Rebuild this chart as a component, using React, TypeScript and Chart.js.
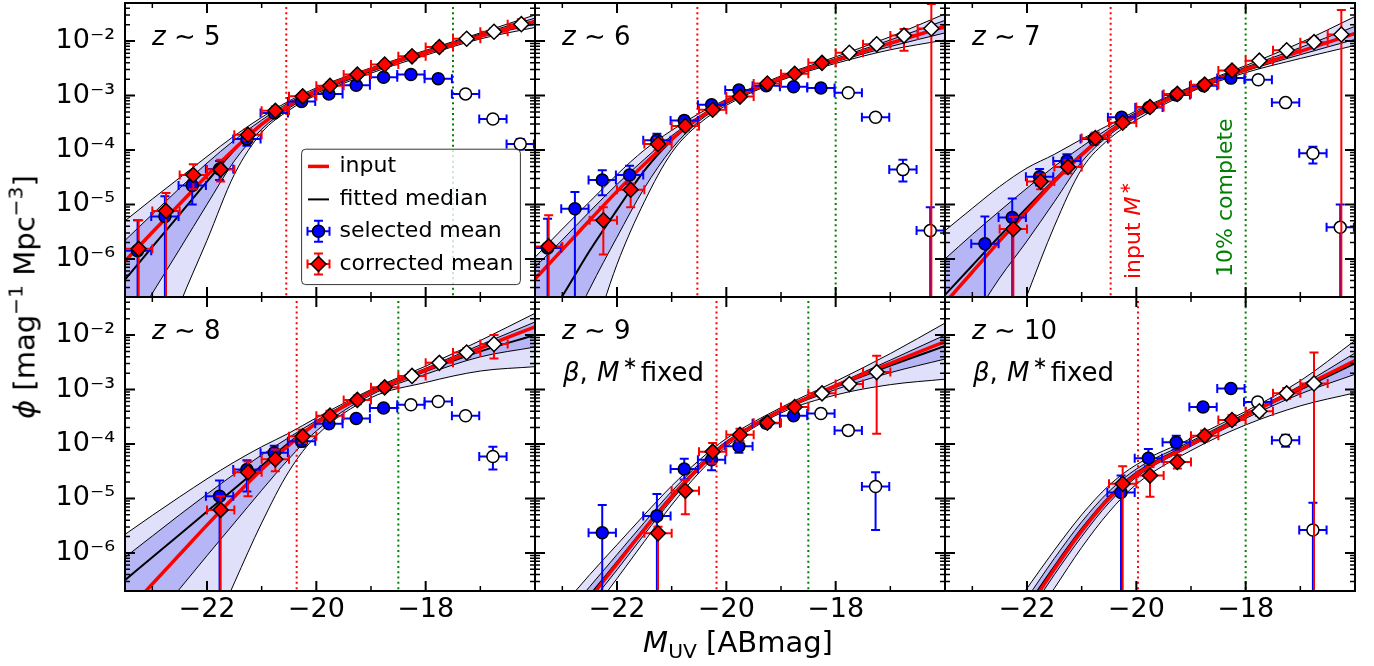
import React, { useEffect, useRef } from "react";
import { Chart, registerables } from "chart.js";

Chart.register(...registerables);

const FONT = "'DejaVu Sans', sans-serif";
Chart.defaults.font.family = FONT;

// ---------------- data ----------------
// magnitudes at which the curves are sampled
const CURVE_M = [-23.5, -23, -22.5, -22, -21.5, -21, -20.5, -20, -19, -18, -17, -16];
const BIN_HALF_WIDTH = 0.25;

// z ~ 5 (log10 phi)
const z5Input = [-6.04, -5.51, -4.99, -4.47, -3.98, -3.53, -3.18, -2.91, -2.52, -2.21, -1.91, -1.64];
const z5Median = [-6.38, -5.78, -5.18, -4.58, -4.0, -3.52, -3.18, -2.92, -2.53, -2.21, -1.9, -1.63];
const z5OuterUp = [-5.3, -4.9, -4.51, -4.12, -3.74, -3.4, -3.1, -2.86, -2.49, -2.17, -1.85, -1.52];
const z5InnerUp = [-5.66, -5.18, -4.7, -4.24, -3.82, -3.45, -3.13, -2.89, -2.51, -2.19, -1.87, -1.58];
const z5InnerLow = [-7.45, -6.63, -5.82, -5.0, -4.2, -3.62, -3.23, -2.96, -2.56, -2.23, -1.93, -1.69];
const z5OuterLow = [-9.4, -8.2, -6.84, -5.66, -4.45, -3.68, -3.27, -2.99, -2.59, -2.26, -1.96, -1.75];
const z5CorrM = [-23.25, -22.75, -22.25, -21.75, -21.25, -20.75, -20.25, -19.75, -19.25, -18.75, -18.25, -17.75, -17.25, -16.75, -16.25];
const z5CorrLog = [-5.815, -5.12, -4.46, -4.36, -3.72, -3.28, -3.015, -2.82, -2.615, -2.43, -2.28, -2.11, -1.957, -1.83, -1.69];
const z5CorrLo = [null, null, -4.72, -4.58, -3.82, -3.35, -3.07, -2.88, -2.67, -2.49, -2.35, -2.18, -2.03, -1.9, -1.78];
const z5CorrHi = [-5.29, -4.79, -4.26, -4.18, -3.62, -3.2, -2.96, -2.76, -2.55, -2.37, -2.21, -2.04, -1.89, -1.76, -1.6];
const z5SelM = [-23.27, -22.77, -22.27, -21.77, -21.27, -20.77, -20.27, -19.77, -19.27, -18.77, -18.27, -17.77, -17.27, -16.77, -16.27];
const z5SelLog = [-5.85, -5.22, -4.65, -4.35, -3.8, -3.32, -3.11, -2.97, -2.81, -2.665, -2.615, -2.69, -2.97, -3.43, -3.89];
const z5SelLo = [null, null, -5.0, -4.55, -3.92, -3.38, -3.16, -3.01, -2.85, -2.7, -2.65, -2.73, -3.01, -3.49, -3.99];
const z5SelHi = [-5.29, -4.85, -4.55, -4.2, -3.7, -3.26, -3.06, -2.93, -2.77, -2.63, -2.58, -2.65, -2.93, -3.37, -3.8];

// z ~ 6
const z6Input = [-6.37, -5.83, -5.29, -4.76, -4.26, -3.8, -3.41, -3.11, -2.68, -2.35, -2.04, -1.73];
const z6Median = [-7.45, -6.68, -5.85, -5.1, -4.38, -3.82, -3.42, -3.12, -2.68, -2.35, -2.04, -1.74];
const z6OuterUp = [-5.97, -5.45, -4.95, -4.45, -4.0, -3.64, -3.33, -3.07, -2.64, -2.29, -1.92, -1.5];
const z6InnerUp = [-6.15, -5.65, -5.13, -4.63, -4.17, -3.74, -3.38, -3.09, -2.66, -2.32, -1.98, -1.62];
const z6InnerLow = [-9.0, -7.6, -6.55, -5.6, -4.7, -3.98, -3.47, -3.15, -2.7, -2.38, -2.1, -1.85];
const z6OuterLow = [-10.5, -9.0, -7.6, -6.1, -4.95, -4.05, -3.52, -3.18, -2.72, -2.41, -2.16, -1.98];
const z6CorrM = [-23.25, -22.25, -21.75, -21.25, -20.75, -20.25, -19.75, -19.25, -18.75, -18.25, -17.75, -17.25, -16.75, -16.25];
const z6CorrLog = [-5.77, -5.29, -4.73, -3.89, -3.56, -3.26, -3.02, -2.78, -2.6, -2.4, -2.215, -2.06, -1.9, -1.77];
const z6CorrLo = [null, -5.92, -5.05, -4.0, -3.64, -3.33, -3.08, -2.84, -2.66, -2.46, -2.28, -2.13, -2.18, null];
const z6CorrHi = [-5.2, -5.05, -4.62, -3.78, -3.48, -3.19, -2.96, -2.72, -2.54, -2.34, -2.15, -1.99, -1.78, -1.32];
const z6SelM = [-23.27, -22.77, -22.27, -21.77, -21.27, -20.77, -20.27, -19.77, -19.27, -18.77, -18.27, -17.77, -17.27, -16.77, -16.27];
const z6SelLog = [-5.8, -5.08, -4.55, -4.46, -3.82, -3.46, -3.17, -2.9, -2.82, -2.84, -2.86, -2.95, -3.4, -4.36, -5.48];
const z6SelLo = [null, null, -4.83, -4.62, -3.94, -3.54, -3.23, -2.95, -2.87, -2.89, -2.91, -3.0, -3.47, -4.58, null];
const z6SelHi = [-5.26, -4.77, -4.37, -4.29, -3.7, -3.38, -3.11, -2.85, -2.77, -2.79, -2.81, -2.9, -3.33, -4.18, -5.05];

// z ~ 7
const z7Input = [-6.81, -6.24, -5.67, -5.12, -4.58, -4.09, -3.67, -3.35, -2.89, -2.52, -2.19, -1.86];
const z7Median = [-6.66, -6.12, -5.58, -5.06, -4.55, -4.07, -3.66, -3.34, -2.88, -2.51, -2.19, -1.86];
const z7OuterUp = [-5.48, -5.07, -4.67, -4.33, -4.08, -3.8, -3.54, -3.28, -2.84, -2.45, -2.03, -1.55];
const z7InnerUp = [-6.0, -5.55, -5.12, -4.7, -4.3, -3.94, -3.6, -3.31, -2.86, -2.48, -2.12, -1.73];
const z7InnerLow = [-7.85, -7.12, -6.35, -5.67, -4.95, -4.22, -3.73, -3.4, -2.91, -2.55, -2.25, -1.97];
const z7OuterLow = [-11.0, -9.4, -8.0, -6.67, -5.4, -4.35, -3.8, -3.45, -2.93, -2.58, -2.32, -2.08];
const z7CorrM = [-22.25, -21.75, -21.25, -20.75, -20.25, -19.75, -19.25, -18.75, -18.25, -17.75, -17.25, -16.75, -16.25];
const z7CorrLog = [-5.45, -4.58, -4.31, -3.78, -3.5, -3.21, -2.97, -2.8, -2.54, -2.36, -2.17, -2.02, -1.88];
const z7CorrLo = [null, -4.72, -4.43, -3.88, -3.58, -3.28, -3.03, -2.86, -2.6, -2.42, -2.24, -2.1, null];
const z7CorrHi = [-5.23, -4.45, -4.19, -3.68, -3.42, -3.14, -2.91, -2.74, -2.48, -2.3, -2.1, -1.94, -1.43];
const z7SelM = [-22.77, -22.27, -21.77, -21.27, -20.77, -20.27, -19.77, -19.27, -18.77, -18.27, -17.77, -17.27, -16.77, -16.27];
const z7SelLog = [-5.72, -5.24, -4.49, -4.2, -3.8, -3.4, -3.22, -2.99, -2.82, -2.68, -2.71, -3.13, -4.06, -5.42];
const z7SelLo = [null, null, -4.65, -4.32, -3.9, -3.48, -3.28, -3.05, -2.87, -2.73, -2.76, -3.19, -4.25, null];
const z7SelHi = [-5.22, -4.89, -4.35, -4.08, -3.7, -3.32, -3.16, -2.93, -2.77, -2.63, -2.66, -3.07, -3.94, -5.0];

// z ~ 8
const z8Input = [-7.12, -6.57, -6.03, -5.49, -4.97, -4.47, -4.02, -3.62, -3.05, -2.64, -2.24, -1.85];
const z8Median = [-6.5, -6.08, -5.66, -5.24, -4.82, -4.4, -3.98, -3.62, -3.06, -2.66, -2.3, -2.0];
const z8OuterUp = [-5.66, -5.31, -4.97, -4.64, -4.33, -4.05, -3.8, -3.52, -3.0, -2.57, -2.1, -1.6];
const z8InnerUp = [-6.08, -5.69, -5.3, -4.92, -4.55, -4.2, -3.88, -3.57, -3.02, -2.61, -2.18, -1.76];
const z8InnerLow = [-7.9, -7.27, -6.66, -6.05, -5.45, -4.85, -4.27, -3.76, -3.1, -2.72, -2.4, -2.22];
const z8OuterLow = [-12.0, -10.5, -9.0, -7.7, -6.55, -5.45, -4.5, -3.85, -3.15, -2.87, -2.66, -2.58];
const z8CorrM = [-21.75, -21.25, -20.75, -20.25, -19.75, -19.25, -18.75, -18.25, -17.75, -17.25, -16.75];
const z8CorrLog = [-5.21, -4.52, -4.28, -3.86, -3.48, -3.19, -2.96, -2.75, -2.51, -2.32, -2.165];
const z8CorrLo = [null, -4.96, -4.5, -3.98, -3.57, -3.27, -3.03, -2.82, -2.58, -2.4, -2.43];
const z8CorrHi = [-4.96, -4.32, -4.1, -3.74, -3.39, -3.11, -2.89, -2.68, -2.44, -2.24, -2.0];
const z8SelM = [-21.77, -21.27, -20.77, -20.27, -19.77, -19.27, -18.77, -18.27, -17.77, -17.27, -16.77];
const z8SelLog = [-4.96, -4.47, -4.16, -3.95, -3.63, -3.53, -3.34, -3.28, -3.22, -3.48, -4.23];
const z8SelLo = [null, -4.87, -4.3, -4.05, -3.7, -3.59, -3.39, -3.33, -3.27, -3.54, -4.47];
const z8SelHi = [-4.67, -4.3, -4.03, -3.85, -3.56, -3.47, -3.29, -3.23, -3.17, -3.42, -4.05];

// z ~ 9
const z9Input = [-8.12, -7.48, -6.84, -6.2, -5.57, -4.97, -4.44, -3.99, -3.38, -2.93, -2.52, -2.12];
const z9Median = [-8.0, -7.4, -6.78, -6.17, -5.55, -4.95, -4.42, -3.98, -3.38, -2.95, -2.56, -2.2];
const z9OuterUp = [-7.55, -6.98, -6.4, -5.85, -5.3, -4.77, -4.3, -3.9, -3.33, -2.85, -2.34, -1.78];
const z9InnerUp = [-7.8, -7.22, -6.62, -6.03, -5.44, -4.87, -4.37, -3.95, -3.36, -2.91, -2.46, -2.0];
const z9InnerLow = [-8.2, -7.58, -6.94, -6.31, -5.66, -5.03, -4.47, -4.01, -3.4, -3.0, -2.69, -2.44];
const z9OuterLow = [-8.45, -7.82, -7.14, -6.47, -5.79, -5.12, -4.53, -4.05, -3.43, -3.1, -2.91, -2.81];
const z9CorrM = [-21.25, -20.75, -20.25, -19.75, -19.25, -18.75, -18.25, -17.75, -17.25];
const z9CorrLog = [-5.64, -4.86, -4.14, -3.83, -3.61, -3.32, -3.07, -2.9, -2.68];
const z9CorrLo = [null, -5.29, -4.36, -3.95, -3.69, -3.39, -3.14, -2.98, -3.81];
const z9CorrHi = [-5.52, -4.66, -3.98, -3.72, -3.53, -3.25, -3.0, -2.82, -2.38];
const z9SelM = [-22.27, -21.27, -20.77, -20.27, -19.77, -19.27, -18.77, -18.27, -17.77, -17.27];
const z9SelLog = [-5.63, -5.32, -4.46, -4.29, -4.04, -3.62, -3.48, -3.44, -3.75, -4.78];
const z9SelLo = [null, null, -4.65, -4.48, -4.16, -3.7, -3.55, -3.51, -3.83, -5.58];
const z9SelHi = [-5.12, -4.92, -4.27, -4.14, -3.94, -3.55, -3.41, -3.37, -3.67, -4.52];

// z ~ 10
const z10Input = [-9.3, -8.55, -7.8, -7.05, -6.3, -5.6, -5.0, -4.56, -4.01, -3.48, -2.97, -2.47];
const z10Median = [-9.2, -8.45, -7.72, -6.98, -6.25, -5.56, -4.97, -4.53, -3.99, -3.48, -3.0, -2.52];
const z10OuterUp = [-8.75, -8.05, -7.35, -6.65, -5.95, -5.3, -4.76, -4.38, -3.9, -3.4, -2.84, -2.1];
const z10InnerUp = [-9.0, -8.27, -7.55, -6.83, -6.1, -5.43, -4.87, -4.46, -3.95, -3.44, -2.93, -2.33];
const z10InnerLow = [-9.4, -8.65, -7.9, -7.15, -6.4, -5.7, -5.08, -4.61, -4.04, -3.53, -3.08, -2.72];
const z10OuterLow = [-9.8, -9.0, -8.2, -7.4, -6.65, -5.9, -5.25, -4.74, -4.12, -3.65, -3.3, -3.06];
const z10CorrM = [-20.25, -19.75, -19.25, -18.75, -18.25, -17.75, -17.25, -16.75];
const z10CorrLog = [-4.73, -4.58, -4.33, -3.85, -3.56, -3.4, -3.07, -2.89];
const z10CorrLo = [null, -4.97, -4.45, -3.95, -3.65, -3.48, -3.17, null];
const z10CorrHi = [-4.41, -4.42, -4.2, -3.75, -3.47, -3.32, -2.97, -2.32];
const z10SelM = [-20.28, -19.78, -19.27, -18.78, -18.27, -17.78, -17.27, -16.77];
const z10SelLog = [-4.89, -4.26, -3.97, -3.32, -2.98, -3.23, -3.93, -5.58];
const z10SelLo = [null, -4.41, -4.1, -3.4, -3.05, -3.3, -4.05, null];
const z10SelHi = [-4.58, -4.09, -3.85, -3.25, -2.92, -3.16, -3.83, -5.08];

// reference magnitudes: input M* and 10% completeness
const M_STAR = [-20.55, -20.53, -20.47, -20.36, -20.18, -19.97];
const M_COMPLETE = [-17.5, -18.0, -18.0, -18.5, -18.5, -18.0];
const Z_LABELS = ["5", "6", "7", "8", "9", "10"];

// axes
const X_MIN = -23.5;
const X_MAX = -16;
const Y_MIN = 2e-7;
const Y_MAX = 5e-2;
const X_MAJOR_TICKS = [-22, -20, -18];
const X_TICK_LABELS = ["\u221222", "\u221220", "\u221218"];
const X_MINOR_TICKS = [-23, -21, -19, -17];
const Y_MAJOR_TICKS = [1e-6, 1e-5, 1e-4, 1e-3, 1e-2];
const Y_TICK_LABELS = ["10\u207B\u2076", "10\u207B\u2075", "10\u207B\u2074", "10\u207B\u00B3", "10\u207B\u00B2"];
const Y_MINOR_TICKS: number[] = [];
for (let e = -7; e <= -2; e++) {
  for (let k = 2; k <= 9; k++) {
    const v = k * Math.pow(10, e);
    if (v >= Y_MIN && v <= Y_MAX) Y_MINOR_TICKS.push(v);
  }
}

// ---------------- style / layout ----------------
const LIGHT = "rgb(224,224,250)";
const DARK = "rgb(182,182,246)";
const RED = "#ff0000";
const BLUE = "#0000ff";
const GREEN = "#008000";
const PANEL_X = [125, 535, 945];
const PANEL_Y = [3, 297];
const PANEL_W = 410;
const PANEL_H = 294;

type Panel = {
  idx: number; row: number; col: number;
  input: number[]; median: number[]; outerUp: number[]; innerUp: number[]; innerLow: number[]; outerLow: number[];
  corrM: number[]; corrLog: number[]; corrLo: (number | null)[]; corrHi: number[];
  selM: number[]; selLog: number[]; selLo: (number | null)[]; selHi: number[];
};

const PANELS: Panel[] = [
  { idx: 0, row: 0, col: 0, input: z5Input, median: z5Median, outerUp: z5OuterUp, innerUp: z5InnerUp, innerLow: z5InnerLow, outerLow: z5OuterLow, corrM: z5CorrM, corrLog: z5CorrLog, corrLo: z5CorrLo, corrHi: z5CorrHi, selM: z5SelM, selLog: z5SelLog, selLo: z5SelLo, selHi: z5SelHi },
  { idx: 1, row: 0, col: 1, input: z6Input, median: z6Median, outerUp: z6OuterUp, innerUp: z6InnerUp, innerLow: z6InnerLow, outerLow: z6OuterLow, corrM: z6CorrM, corrLog: z6CorrLog, corrLo: z6CorrLo, corrHi: z6CorrHi, selM: z6SelM, selLog: z6SelLog, selLo: z6SelLo, selHi: z6SelHi },
  { idx: 2, row: 0, col: 2, input: z7Input, median: z7Median, outerUp: z7OuterUp, innerUp: z7InnerUp, innerLow: z7InnerLow, outerLow: z7OuterLow, corrM: z7CorrM, corrLog: z7CorrLog, corrLo: z7CorrLo, corrHi: z7CorrHi, selM: z7SelM, selLog: z7SelLog, selLo: z7SelLo, selHi: z7SelHi },
  { idx: 3, row: 1, col: 0, input: z8Input, median: z8Median, outerUp: z8OuterUp, innerUp: z8InnerUp, innerLow: z8InnerLow, outerLow: z8OuterLow, corrM: z8CorrM, corrLog: z8CorrLog, corrLo: z8CorrLo, corrHi: z8CorrHi, selM: z8SelM, selLog: z8SelLog, selLo: z8SelLo, selHi: z8SelHi },
  { idx: 4, row: 1, col: 1, input: z9Input, median: z9Median, outerUp: z9OuterUp, innerUp: z9InnerUp, innerLow: z9InnerLow, outerLow: z9OuterLow, corrM: z9CorrM, corrLog: z9CorrLog, corrLo: z9CorrLo, corrHi: z9CorrHi, selM: z9SelM, selLog: z9SelLog, selLo: z9SelLo, selHi: z9SelHi },
  { idx: 5, row: 1, col: 2, input: z10Input, median: z10Median, outerUp: z10OuterUp, innerUp: z10InnerUp, innerLow: z10InnerLow, outerLow: z10OuterLow, corrM: z10CorrM, corrLog: z10CorrLog, corrLo: z10CorrLo, corrHi: z10CorrHi, selM: z10SelM, selLog: z10SelLog, selLo: z10SelLo, selHi: z10SelHi },
];

const pow10 = (v: number) => Math.pow(10, v);

// ---------------- drawing helpers ----------------
const errorBarPlugin = {
  id: "lfErrorBars",
  beforeDatasetDraw(chart: any, args: any) {
    const ds: any = chart.data.datasets[args.index];
    const eb = ds.errbars;
    if (!eb) return;
    const { ctx, chartArea: a } = chart;
    const xs = chart.scales.x;
    const ys = chart.scales.y;
    const cap = 4.5;
    ctx.save();
    ctx.beginPath();
    ctx.rect(a.left, a.top, a.right - a.left, a.bottom - a.top);
    ctx.clip();
    ctx.strokeStyle = eb.color;
    ctx.lineWidth = 2;
    eb.m.forEach((m: number, i: number) => {
      const px = xs.getPixelForValue(m);
      const py = ys.getPixelForValue(pow10(eb.val[i]));
      const xl = xs.getPixelForValue(m - BIN_HALF_WIDTH);
      const xr = xs.getPixelForValue(m + BIN_HALF_WIDTH);
      const lo = eb.lo[i];
      const yh = ys.getPixelForValue(pow10(eb.hi[i]));
      const yl = lo === null ? a.bottom + 20 : ys.getPixelForValue(pow10(lo));
      ctx.beginPath();
      ctx.moveTo(xl, py); ctx.lineTo(xr, py);
      ctx.moveTo(xl, py - cap); ctx.lineTo(xl, py + cap);
      ctx.moveTo(xr, py - cap); ctx.lineTo(xr, py + cap);
      ctx.moveTo(px, yl); ctx.lineTo(px, yh);
      ctx.moveTo(px - cap, yh); ctx.lineTo(px + cap, yh);
      if (lo !== null) { ctx.moveTo(px - cap, yl); ctx.lineTo(px + cap, yl); }
      ctx.stroke();
    });
    ctx.restore();
  },
};

function drawFrame(chart: any) {
  const { ctx, chartArea: a } = chart;
  const xs = chart.scales.x;
  const ys = chart.scales.y;
  ctx.save();
  ctx.strokeStyle = "#000";
  const vt = (v: number, len: number, lw: number) => {
    const px = xs.getPixelForValue(v);
    ctx.lineWidth = lw;
    ctx.beginPath();
    ctx.moveTo(px, a.bottom); ctx.lineTo(px, a.bottom - len);
    ctx.moveTo(px, a.top); ctx.lineTo(px, a.top + len);
    ctx.stroke();
  };
  const ht = (v: number, len: number, lw: number) => {
    const py = ys.getPixelForValue(v);
    ctx.lineWidth = lw;
    ctx.beginPath();
    ctx.moveTo(a.left, py); ctx.lineTo(a.left + len, py);
    ctx.moveTo(a.right, py); ctx.lineTo(a.right - len, py);
    ctx.stroke();
  };
  X_MAJOR_TICKS.forEach((v) => vt(v, 10, 2));
  X_MINOR_TICKS.forEach((v) => vt(v, 5, 1.5));
  Y_MAJOR_TICKS.forEach((v) => ht(v, 10, 2));
  Y_MINOR_TICKS.forEach((v) => ht(v, 5, 1.5));
  ctx.lineWidth = 2;
  ctx.strokeRect(a.left, a.top, a.right - a.left, a.bottom - a.top);
  ctx.restore();
}

function drawAnnotations(chart: any, p: Panel) {
  const { ctx, chartArea: a } = chart;
  ctx.save();
  ctx.fillStyle = "#000";
  ctx.textBaseline = "middle";
  ctx.textAlign = "left";
  // z label
  let x = a.left + 27;
  const y = a.top + 35;
  ctx.font = `italic 26px ${FONT}`;
  ctx.fillText("z", x, y);
  x += ctx.measureText("z").width;
  ctx.font = `26px ${FONT}`;
  ctx.fillText(" \u223C " + Z_LABELS[p.idx], x, y);

  if (p.idx >= 4) {
    let cx = a.left + 28;
    const cy = a.top + 77;
    ctx.font = `italic 26px ${FONT}`;
    ctx.fillText("\u03B2", cx, cy);
    cx += ctx.measureText("\u03B2").width;
    ctx.font = `26px ${FONT}`;
    ctx.fillText(", ", cx, cy);
    cx += ctx.measureText(", ").width + 1;
    ctx.font = `italic 26px ${FONT}`;
    ctx.fillText("M", cx, cy);
    cx += ctx.measureText("M").width + 3;
    ctx.font = `18px ${FONT}`;
    ctx.fillText("\u2217", cx, cy - 10);
    cx += ctx.measureText("\u2217").width + 3;
    ctx.font = `26px ${FONT}`;
    ctx.fillText("fixed", cx, cy);
  }

  if (p.idx === 2) {
    // rotated "input M*"
    ctx.save();
    ctx.translate(a.left + 189, a.top + 276);
    ctx.rotate(-Math.PI / 2);
    ctx.fillStyle = RED;
    ctx.font = `22px ${FONT}`;
    ctx.fillText("input ", 0, 0);
    let rx = ctx.measureText("input ").width;
    ctx.font = `italic 22px ${FONT}`;
    ctx.fillText("M", rx, 0);
    rx += ctx.measureText("M").width + 2;
    ctx.font = `15px ${FONT}`;
    ctx.fillText("\u2217", rx, -8);
    ctx.restore();
    // rotated "10% complete"
    ctx.save();
    ctx.translate(a.left + 281, a.top + 274);
    ctx.rotate(-Math.PI / 2);
    ctx.fillStyle = GREEN;
    ctx.font = `22px ${FONT}`;
    ctx.fillText("10% complete", 0, 0);
    ctx.restore();
  }
  ctx.restore();
}

function drawErrMarker(ctx: CanvasRenderingContext2D, cx: number, cy: number, color: string, diamond: boolean) {
  const cap = 4.5;
  ctx.strokeStyle = color;
  ctx.lineWidth = 2;
  ctx.beginPath();
  ctx.moveTo(cx - 11, cy); ctx.lineTo(cx + 11, cy);
  ctx.moveTo(cx - 11, cy - cap); ctx.lineTo(cx - 11, cy + cap);
  ctx.moveTo(cx + 11, cy - cap); ctx.lineTo(cx + 11, cy + cap);
  ctx.moveTo(cx, cy - 10.5); ctx.lineTo(cx, cy + 10.5);
  ctx.moveTo(cx - cap, cy - 10.5); ctx.lineTo(cx + cap, cy - 10.5);
  ctx.moveTo(cx - cap, cy + 10.5); ctx.lineTo(cx + cap, cy + 10.5);
  ctx.stroke();
  ctx.beginPath();
  if (diamond) {
    ctx.moveTo(cx - 7.5, cy); ctx.lineTo(cx, cy - 7.5); ctx.lineTo(cx + 7.5, cy); ctx.lineTo(cx, cy + 7.5);
    ctx.closePath();
  } else {
    ctx.arc(cx, cy, 6, 0, Math.PI * 2);
  }
  ctx.fillStyle = color;
  ctx.fill();
  ctx.lineWidth = 1.5;
  ctx.strokeStyle = "#000";
  ctx.stroke();
}

function drawLegend(chart: any) {
  const { ctx, chartArea: a } = chart;
  const L = a.left;
  const T = a.top;
  ctx.save();
  const bx = L + 176.6, by = T + 146.2, bw = 218.8, bh = 135.4, r = 4;
  ctx.beginPath();
  ctx.moveTo(bx + r, by);
  ctx.lineTo(bx + bw - r, by);
  ctx.arcTo(bx + bw, by, bx + bw, by + r, r);
  ctx.lineTo(bx + bw, by + bh - r);
  ctx.arcTo(bx + bw, by + bh, bx + bw - r, by + bh, r);
  ctx.lineTo(bx + r, by + bh);
  ctx.arcTo(bx, by + bh, bx, by + bh - r, r);
  ctx.lineTo(bx, by + r);
  ctx.arcTo(bx, by, bx + r, by, r);
  ctx.closePath();
  ctx.fillStyle = "rgba(255,255,255,0.8)";
  ctx.fill();
  ctx.strokeStyle = "rgba(0,0,0,0.8)";
  ctx.lineWidth = 1;
  ctx.stroke();

  const hx0 = L + 183, hx1 = L + 204, hc = L + 193.5, tx = L + 214.5;
  const rows = [T + 163.4, T + 196.4, T + 228.2, T + 261];
  ctx.lineCap = "butt";
  ctx.strokeStyle = RED; ctx.lineWidth = 3.5;
  ctx.beginPath(); ctx.moveTo(hx0, rows[0]); ctx.lineTo(hx1, rows[0]); ctx.stroke();
  ctx.strokeStyle = "#000"; ctx.lineWidth = 2;
  ctx.beginPath(); ctx.moveTo(hx0, rows[1]); ctx.lineTo(hx1, rows[1]); ctx.stroke();
  drawErrMarker(ctx, hc, rows[2], BLUE, false);
  drawErrMarker(ctx, hc, rows[3], RED, true);

  ctx.fillStyle = "#000";
  ctx.font = `22px ${FONT}`;
  ctx.textBaseline = "middle";
  ctx.textAlign = "left";
  ["input", "fitted median", "selected mean", "corrected mean"].forEach((t, i) => ctx.fillText(t, tx, rows[i]));
  ctx.restore();
}

// ---------------- chart config ----------------
function geometry(p: Panel) {
  const padL = p.col === 0 ? 125 : 12;
  const padR = 12;
  const padT = p.row === 0 ? 3 : 12;
  const padB = p.row === 1 ? 70 : 12;
  const left = PANEL_X[p.col];
  const top = PANEL_Y[p.row];
  return {
    padL, padR, padT, padB,
    cl: left - padL, ct: top - padT,
    cw: padL + PANEL_W + padR, ch: padT + PANEL_H + padB,
  };
}

function zeroPadding(s: any) {
  s.paddingTop = 0;
  s.paddingBottom = 0;
  s.paddingLeft = 0;
  s.paddingRight = 0;
}

function buildConfig(p: Panel, g: any): any {
  const mComp = M_COMPLETE[p.idx];
  const mStar = M_STAR[p.idx];
  const curve = (arr: number[], extra: any) => ({
    type: "line",
    data: CURVE_M.map((m, i) => ({ x: m, y: pow10(arr[i]) })),
    pointRadius: 0,
    cubicInterpolationMode: "monotone",
    borderColor: "#000",
    borderWidth: 1,
    fill: false,
    ...extra,
  });
  const decor = {
    id: "lfDecor",
    afterDraw(chart: any) {
      drawFrame(chart);
      drawAnnotations(chart, p);
      if (p.idx === 0) drawLegend(chart);
    },
  };
  return {
    type: "line",
    data: {
      datasets: [
        curve(p.outerUp, { label: "outer upper", fill: 1, backgroundColor: LIGHT, order: 9 }),
        curve(p.outerLow, { label: "outer lower", order: 8 }),
        curve(p.innerUp, { label: "inner upper", fill: 3, backgroundColor: DARK, order: 7 }),
        curve(p.innerLow, { label: "inner lower", order: 6 }),
        curve(p.median, { label: "fitted median", borderWidth: 2, order: 5 }),
        curve(p.input, { label: "input", borderColor: RED, borderWidth: 3.5, order: 4 }),
        {
          type: "line", label: "input M*",
          data: [{ x: mStar, y: 1e-9 }, { x: mStar, y: 1 }],
          borderColor: RED, borderWidth: 2, borderDash: [2, 3.3], pointRadius: 0, fill: false, order: 3,
        },
        {
          type: "line", label: "10% complete",
          data: [{ x: mComp, y: 1e-9 }, { x: mComp, y: 1 }],
          borderColor: GREEN, borderWidth: 2, borderDash: [2, 3.3], pointRadius: 0, fill: false, order: 3,
        },
        {
          type: "line", label: "selected mean",
          data: p.selM.map((m, i) => ({ x: m, y: pow10(p.selLog[i]) })),
          showLine: false, pointStyle: "circle", pointRadius: 6,
          pointBackgroundColor: p.selM.map((m) => (m > mComp ? "#ffffff" : BLUE)),
          pointBorderColor: "#000", pointBorderWidth: 1.5, order: 2,
          errbars: { m: p.selM, val: p.selLog, lo: p.selLo, hi: p.selHi, color: BLUE },
        },
        {
          type: "line", label: "corrected mean",
          data: p.corrM.map((m, i) => ({ x: m, y: pow10(p.corrLog[i]) })),
          showLine: false, pointStyle: "rectRot", pointRadius: 7.5,
          pointBackgroundColor: p.corrM.map((m) => (m > mComp ? "#ffffff" : RED)),
          pointBorderColor: "#000", pointBorderWidth: 1.5, order: 1,
          errbars: { m: p.corrM, val: p.corrLog, lo: p.corrLo, hi: p.corrHi, color: RED },
        },
      ],
    },
    options: {
      animation: false,
      responsive: false,
      maintainAspectRatio: false,
      devicePixelRatio: 1,
      events: [],
      layout: { autoPadding: false, padding: { left: 0, right: g.padR, top: g.padT, bottom: 0 } },
      plugins: { legend: { display: false }, tooltip: { enabled: false }, title: { display: false } },
      scales: {
        x: {
          type: "linear", position: "bottom", min: X_MIN, max: X_MAX,
          grid: { display: false, drawTicks: false },
          border: { display: false },
          afterBuildTicks: (s: any) => { s.ticks = X_MAJOR_TICKS.map((v) => ({ value: v })); },
          afterFit: (s: any) => { s.height = g.padB; zeroPadding(s); },
          ticks: {
            display: p.row === 1, autoSkip: false, maxRotation: 0, minRotation: 0, padding: 3,
            color: "#000", font: { family: FONT, size: 27 },
            callback: (_v: any, i: number) => X_TICK_LABELS[i],
          },
        },
        y: {
          type: "logarithmic", position: "left", min: Y_MIN, max: Y_MAX,
          grid: { display: false, drawTicks: false },
          border: { display: false },
          afterBuildTicks: (s: any) => { s.ticks = Y_MAJOR_TICKS.map((v) => ({ value: v })); },
          afterFit: (s: any) => { s.width = g.padL; zeroPadding(s); },
          ticks: {
            display: p.col === 0, autoSkip: false, padding: 10,
            color: "#000", font: { family: FONT, size: 27 },
            callback: (_v: any, i: number) => Y_TICK_LABELS[i],
          },
        },
      },
    },
    plugins: [errorBarPlugin, decor],
  };
}

function PanelChart({ p }: { p: Panel }) {
  const ref = useRef<HTMLCanvasElement>(null);
  const g = geometry(p);
  useEffect(() => {
    if (!ref.current) return;
    const chart = new Chart(ref.current, buildConfig(p, g));
    return () => chart.destroy();
  }, []);
  return (
    <canvas
      ref={ref}
      width={g.cw}
      height={g.ch}
      style={{ position: "absolute", left: g.cl, top: g.ct, width: g.cw, height: g.ch }}
    />
  );
}

const supStyle: React.CSSProperties = { fontSize: "0.7em", verticalAlign: "0.6em", lineHeight: 0 };

export default function App() {
  return (
    <div style={{ position: "absolute", left: 0, top: 0, width: 1374, height: 666, background: "#fff", overflow: "hidden" }}>
      {PANELS.map((p) => (
        <PanelChart key={p.idx} p={p} />
      ))}
      <div
        style={{
          position: "absolute", left: 25, top: 297, transform: "translate(-50%, -50%) rotate(-90deg)",
          fontFamily: FONT, fontSize: 29, lineHeight: 1, whiteSpace: "nowrap", color: "#000",
        }}
      >
        <i>{"\u03D5"}</i> [mag<sup style={supStyle}>{"\u22121"}</sup> Mpc<sup style={supStyle}>{"\u22123"}</sup>]
      </div>
      <div
        style={{
          position: "absolute", left: 738, top: 642, transform: "translate(-50%, -50%)",
          fontFamily: FONT, fontSize: 29, lineHeight: 1, whiteSpace: "nowrap", color: "#000",
        }}
      >
        <i>M</i>
        <sub style={{ fontSize: "0.7em", verticalAlign: "-0.3em", lineHeight: 0 }}>UV</sub> [ABmag]
      </div>
    </div>
  );
}
